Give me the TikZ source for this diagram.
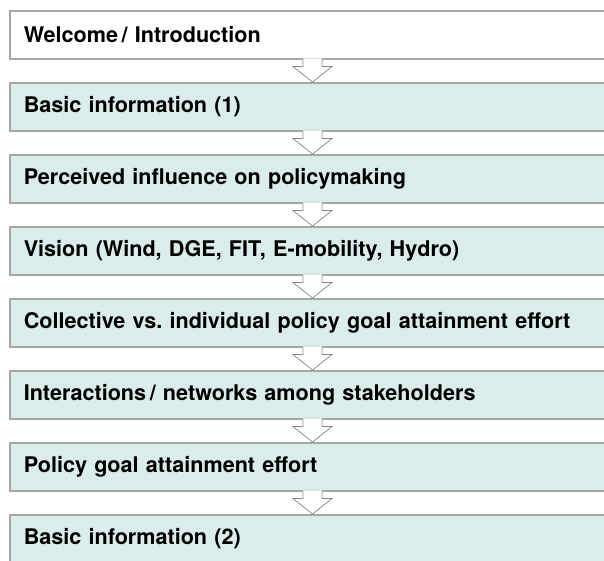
\documentclass[tikz,border=0pt]{standalone}
\usepackage{fontspec}
\setmainfont{TeX Gyre Heros}
\usetikzlibrary{calc}
\frenchspacing
\definecolor{boxfill}{RGB}{218,237,234}
\definecolor{boxline}{RGB}{166,166,166}
\definecolor{arrline}{RGB}{140,140,140}
\tikzset{
  stagebox/.style={draw=boxline, line width=1.5pt, fill=boxfill, anchor=north west,
    minimum width=620pt, minimum height=48pt, text width=592pt, align=left,
    inner xsep=14pt, inner ysep=0pt, font=\fontsize{21.6}{24}\selectfont\bfseries},
  firstbox/.style={stagebox, fill=white},
  arrline/.style={draw=arrline, line width=0.8pt, line join=miter},
}
\newcommand{\flowarrow}[2]{%
  \path (#1.south -| ax) coordinate (s) (#2.north -| ax) coordinate (t);
  \fill[white] ($(s)+(-9.5,-1.2)$) -- ($(s)+(-9.5,7)$) -- ($(s)+(-19.5,7)$) -- (t)
     -- ($(s)+(19.5,7)$) -- ($(s)+(9.5,7)$) -- ($(s)+(9.5,-1.2)$) -- cycle;
  \draw[arrline] ($(s)+(-9.5,0)$) -- ($(s)+(-9.5,7)$) -- ($(s)+(-19.5,7)$) -- (t)
     -- ($(s)+(19.5,7)$) -- ($(s)+(9.5,7)$) -- ($(s)+(9.5,0)$);
}
\begin{document}
\begin{tikzpicture}[x=1pt,y=-1pt]
\useasboundingbox[fill=white] (0,0) rectangle (604,560);
\coordinate (ax) at (312.5,0);
\node[firstbox] (b1) at (9,10) {Welcome\,/ Introduction};
\node[stagebox] (b2) at (9,82) {Basic information (1)};
\node[stagebox] (b3) at (9,154) {Perceived influence on policymaking};
\node[stagebox] (b4) at (9,226) {Vision (Wind, DGE, FIT, E-mobility, Hydro)};
\node[stagebox] (b5) at (9,298) {Collective vs. individual policy goal attainment effort};
\node[stagebox] (b6) at (9,370) {Interactions\,/ networks among stakeholders};
\node[stagebox] (b7) at (9,442) {Policy goal attainment effort};
\node[stagebox] (b8) at (9,514) {Basic information (2)};
\flowarrow{b1}{b2}
\flowarrow{b2}{b3}
\flowarrow{b3}{b4}
\flowarrow{b4}{b5}
\flowarrow{b5}{b6}
\flowarrow{b6}{b7}
\flowarrow{b7}{b8}
\end{tikzpicture}
\end{document}
